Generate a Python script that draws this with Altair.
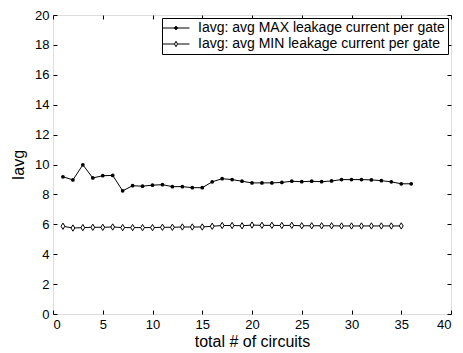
import altair as alt
import pandas as pd

# ---- data ----
max_x = list(range(1, 37))
max_vals = [9.18, 8.97, 9.98, 9.10, 9.25, 9.27, 8.24, 8.58, 8.55, 8.62,
            8.65, 8.52, 8.52, 8.45, 8.45, 8.84, 9.05, 8.99, 8.88, 8.77,
            8.77, 8.77, 8.80, 8.88, 8.85, 8.88, 8.85, 8.90, 8.99, 8.99,
            8.99, 8.97, 8.92, 8.84, 8.71, 8.71]
min_x = list(range(1, 36))
min_vals = [5.87, 5.75, 5.78, 5.80, 5.80, 5.82, 5.78, 5.78, 5.78, 5.78,
            5.80, 5.80, 5.82, 5.82, 5.82, 5.87, 5.92, 5.92, 5.90, 5.95,
            5.93, 5.93, 5.92, 5.93, 5.90, 5.90, 5.90, 5.90, 5.89, 5.89,
            5.89, 5.89, 5.89, 5.89, 5.89]
series_names = ["Iavg: avg MAX leakage current per gate",
                "Iavg: avg MIN leakage current per gate"]
x_ticks = [0, 5, 10, 15, 20, 25, 30, 35, 40]
y_ticks = [0, 2, 4, 6, 8, 10, 12, 14, 16, 18, 20]

df = pd.concat([
    pd.DataFrame({"x": max_x, "y": max_vals, "s": series_names[0]}),
    pd.DataFrame({"x": min_x, "y": min_vals, "s": series_names[1]}),
])

W, H = 398, 299
FONT = "Liberation Sans"
xs = alt.Scale(domain=[0, 40], nice=False)
ys = alt.Scale(domain=[0, 20], nice=False)

def tick_axis(orient, offset):
    vals = x_ticks if orient in ("bottom", "top") else y_ticks
    return alt.Axis(values=vals, orient=orient, offset=offset, labels=False,
                    ticks=True, domain=False, grid=False, tickSize=4,
                    tickColor="black", tickWidth=1, title=None)

base = alt.Chart(df)
max_data = base.transform_filter(alt.datum.s == series_names[0])
min_data = base.transform_filter(alt.datum.s == series_names[1])

# main axes with labels (no ticks)
l1 = max_data.mark_line(color="black", strokeWidth=1).encode(
    x=alt.X("x:Q", scale=xs, axis=alt.Axis(values=x_ticks, orient="bottom", title="total # of circuits",
                                           ticks=False, domain=False, grid=False, labelPadding=4,
                                           labelFontSize=13, titleFontSize=16, titlePadding=2)),
    y=alt.Y("y:Q", scale=ys, axis=alt.Axis(values=y_ticks, orient="left", title="Iavg",
                                           ticks=False, domain=False, grid=False, labelPadding=4,
                                           labelFontSize=13, titleFontSize=16, titlePadding=8)),
)
# inward ticks: bottom edge & left edge
l2 = max_data.mark_point(shape="circle", filled=True, color="black", size=14, opacity=1).encode(
    x=alt.X("x:Q", scale=xs, axis=tick_axis("top", -H)),
    y=alt.Y("y:Q", scale=ys, axis=tick_axis("right", -W)),
)
# inward ticks: top edge & right edge
l3 = min_data.mark_line(color="black", strokeWidth=1).encode(
    x=alt.X("x:Q", scale=xs, axis=tick_axis("bottom", -H)),
    y=alt.Y("y:Q", scale=ys, axis=tick_axis("left", -W)),
)
l4 = min_data.mark_point(shape="M0,-1L0.6,0L0,1L-0.6,0Z", filled=True, fill="white",
                         stroke="black", strokeWidth=1, size=40, opacity=1).encode(
    x=alt.X("x:Q", scale=xs, axis=None),
    y=alt.Y("y:Q", scale=ys, axis=None),
)
# zero-size layer that only carries the legend (line sample + marker)
legend_paths = [
    "M-2.7,0H2.7M0.3,0A0.3,0.3,0,1,1,-0.3,0A0.3,0.3,0,1,1,0.3,0Z",
    "M-2.7,0H-0.3M0.3,0H2.7M0,-0.55L0.3,0L0,0.55L-0.3,0Z",
]
leg = dict(title=None, orient="top-right", offset=3,
           strokeColor="black", fillColor="white",
           padding=3, labelFontSize=14, labelLimit=400,
           symbolSize=100, symbolStrokeWidth=1, symbolOffset=4,
           symbolOpacity=1, rowPadding=2, labelOffset=15)
l5 = base.mark_point(filled=False, size=0, strokeWidth=1, opacity=1).encode(
    x=alt.X("x:Q", scale=xs, axis=None),
    y=alt.Y("y:Q", scale=ys, axis=None),
    shape=alt.Shape("s:N", scale=alt.Scale(domain=series_names, range=legend_paths),
                    legend=alt.Legend(**leg)),
    fill=alt.Fill("s:N", scale=alt.Scale(domain=series_names, range=["black", "white"]),
                  legend=alt.Legend(**leg)),
    stroke=alt.Stroke("s:N", scale=alt.Scale(domain=series_names, range=["black", "black"]),
                      legend=alt.Legend(**leg)),
)

chart = alt.layer(l1, l2, l3, l4, l5).resolve_axis(x="independent", y="independent").properties(
    width=W, height=H,
    autosize=alt.AutoSizeParams(type="none"),
    padding={"left": 45, "top": 7, "right": 4, "bottom": 39},
).configure_view(stroke="black", strokeWidth=1).configure(
    font=FONT,
).configure_axis(
    labelColor="black", titleColor="black", labelFont=FONT, titleFont=FONT,
    titleFontWeight="normal",
).configure_legend(labelColor="black", labelFont=FONT)

chart.save("out.html", embed_options={"renderer": "svg", "actions": False})
